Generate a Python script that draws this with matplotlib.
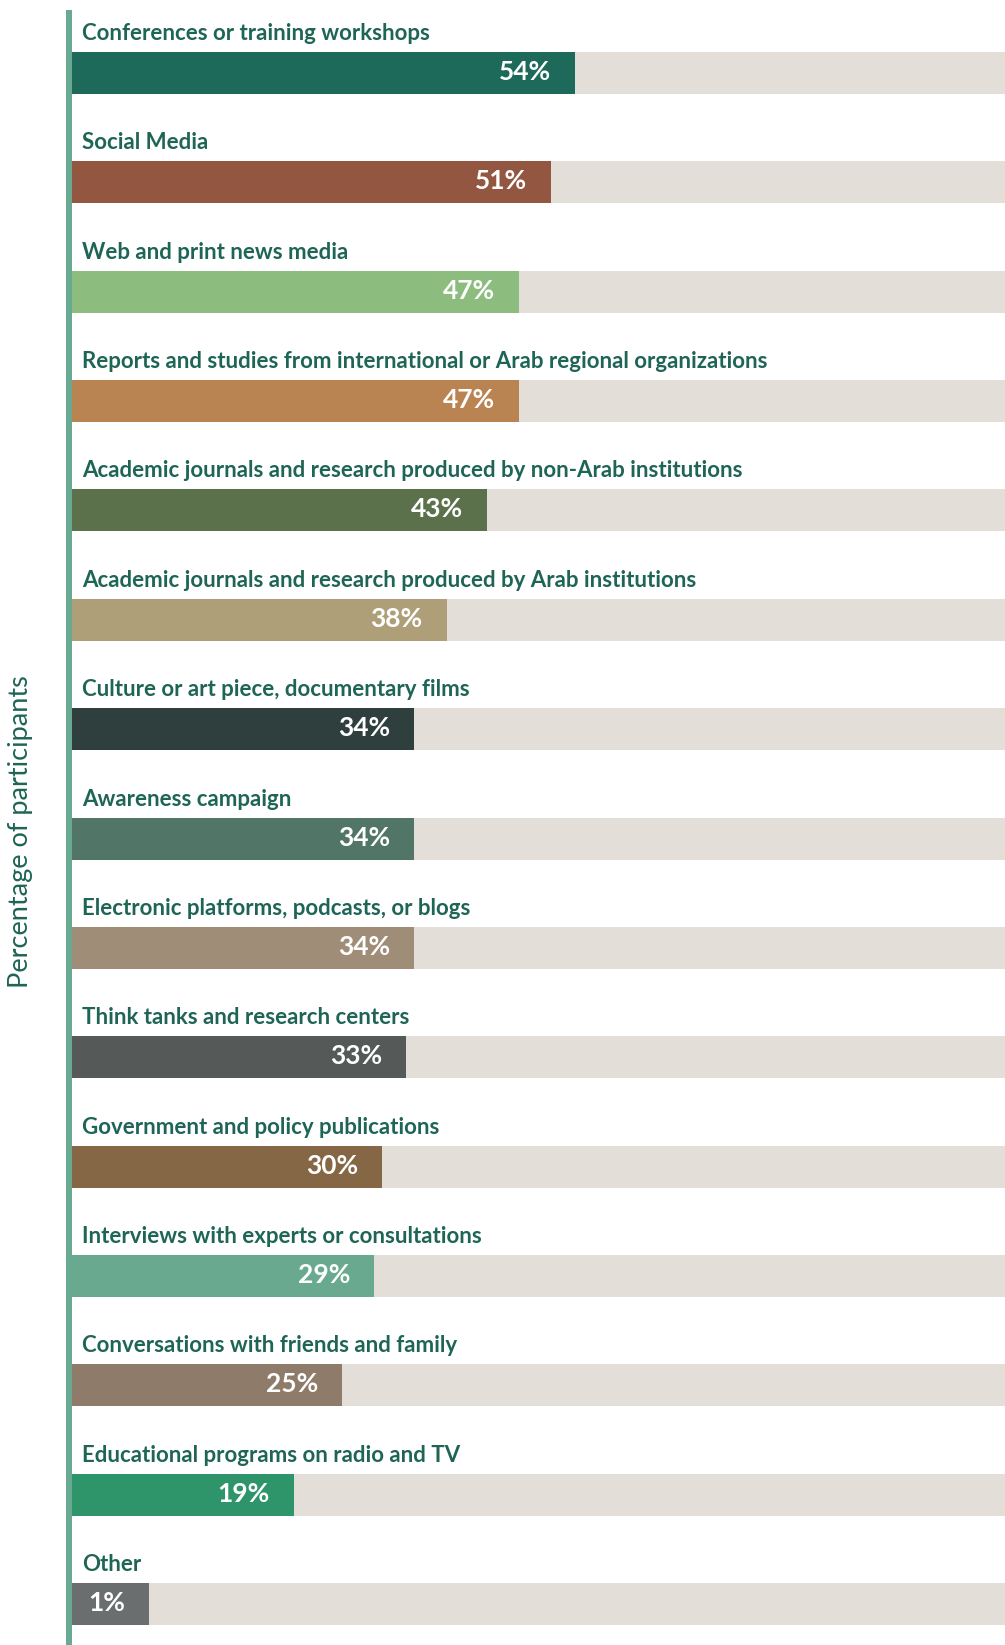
import matplotlib
matplotlib.use('Agg', force=True)
import matplotlib.pyplot as plt
from matplotlib.patches import Rectangle

# Fonti di informazione usate dai partecipanti
categories = [
    "Conferences or training workshops",
    "Social Media",
    "Web and print news media",
    "Reports and studies from international or Arab regional organizations",
    "Academic journals and research produced by non-Arab institutions",
    "Academic journals and research produced by Arab institutions",
    "Culture or art piece, documentary films",
    "Awareness campaign",
    "Electronic platforms, podcasts, or blogs",
    "Think tanks and research centers",
    "Government and policy publications",
    "Interviews with experts or consultations",
    "Conversations with friends and family",
    "Educational programs on radio and TV",
    "Other",
]
values = [54, 51, 47, 47, 43, 38, 34, 34, 34, 33, 30, 29, 25, 19, 1]
bar_colors = [
    "#1d6a5b", "#935641", "#8cbd7f", "#b98352", "#5a714c",
    "#ae9f78", "#2e3f3d", "#517567", "#a08d78", "#555a59",
    "#856746", "#68a98f", "#8f7b6a", "#2e956a", "#6b6e6e",
]

TEXT_COLOR = "#1e6556"
TRACK_COLOR = "#e3dfd8"
LINE_COLOR = "#6aa992"
FONT = "Lato"

W, H = 1005, 1645
fig = plt.figure(figsize=(W / 100, H / 100), dpi=100)

# area del grafico: inizia subito a destra della linea verticale
ax = fig.add_axes([72 / W, 0, 1 - 72 / W, 1])
step = 109.36
x_min, x_max = -8.63, 107.5
ax.set_xlim(x_min, x_max)
ax.set_ylim((H - 73) / step, -73 / step)
ax.axis("off")

bar_h = 42 / step
n = len(categories)
ypos = list(range(n))

# sfondo grigio + barra colorata (dal bordo sinistro fino al valore)
ax.barh(ypos, [x_max - x_min] * n, left=x_min, height=bar_h, color=TRACK_COLOR, zorder=1)
ax.barh(ypos, [v - x_min for v in values], left=x_min, height=bar_h,
        color=bar_colors, zorder=2)

for i, (cat, v) in enumerate(zip(categories, values)):
    # etichetta della categoria sopra la barra
    ax.annotate(cat, xy=(x_min, i - bar_h / 2), xycoords="data",
                xytext=(10 * 0.72, 12 * 0.72), textcoords="offset points",
                ha="left", va="baseline", fontsize=16, fontweight="bold",
                color=TEXT_COLOR, family=FONT)
    # percentuale dentro la barra
    ax.annotate(f"{v}%", xy=(v, i), xycoords="data",
                xytext=(-24 * 0.72, -7 * 0.72), textcoords="offset points",
                ha="right", va="baseline", fontsize=19, fontweight="bold",
                color="white", family=FONT, zorder=3)

# linea verticale a sinistra
fig.add_artist(Rectangle((66 / W, 0), 6 / W, 1 - 10 / H,
                         transform=fig.transFigure, color=LINE_COLOR, lw=0))

fig.text(21 / W, 1 - 832 / H, "Percentage of participants", rotation=90,
         ha="center", va="center", fontsize=19.5, color=TEXT_COLOR, family=FONT)

fig.savefig("out.png", dpi=100)
plt.close(fig)
